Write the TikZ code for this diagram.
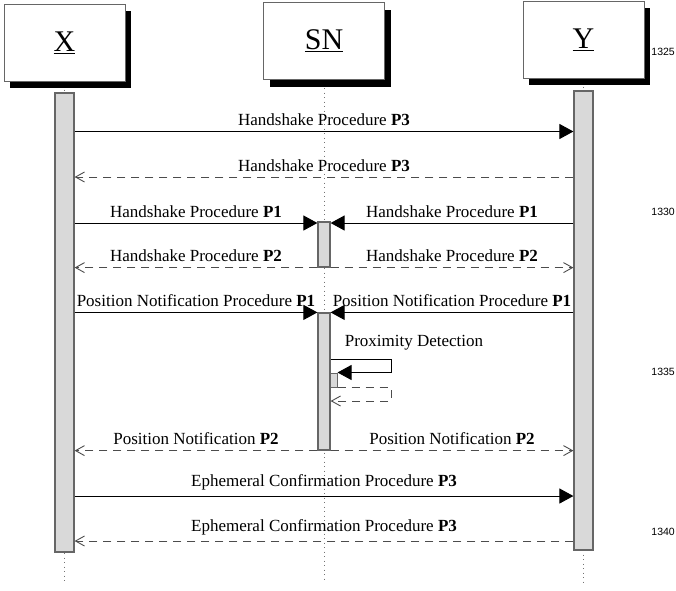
\documentclass[tikz,border=0pt]{standalone}
\usepackage{fontspec}
\setmainfont{Liberation Serif}
\newfontfamily\linenofont{Liberation Sans}
\usetikzlibrary{arrows.meta,shadows}

\begin{document}
\begin{tikzpicture}[
    x=1pt, y=-1pt,
    actor/.style = {
        rectangle,
        draw=black!60,
        line width=1pt,
        fill=white,
        minimum width=121pt,
        minimum height=77pt,
        font=\fontsize{30}{34}\selectfont,
        drop shadow={fill=black, opacity=1, shadow xshift=6pt, shadow yshift=-7pt}
    },
    bar/.style = {
        rectangle,
        draw=black!60,
        line width=1.2pt,
        fill=black!15,
        inner sep=0pt
    },
    lifeline/.style = {
        draw=black!55,
        line width=0.9pt,
        dash pattern=on 0.9pt off 3.6pt
    },
    call/.style = {
        -{Triangle[length=14pt,width=15pt]},
        line width=1pt,
        draw=black
    },
    reply/.style = {
        -{Straight Barb[length=9pt,width=10pt,line width=0.9pt]},
        line width=1pt,
        draw=black!70,
        dash pattern=on 8pt off 6pt
    },
    msg/.style = {
        above=5pt,
        inner sep=0pt,
        font=\fontsize{17}{20}\selectfont,
        text=black
    },
    note/.style = {
        inner sep=0pt,
        font=\fontsize{17}{20}\selectfont
    },
    lineno/.style = {
        anchor=east,
        inner sep=0pt,
        font=\linenofont\fontsize{10.5}{12}\selectfont
    }
]
\useasboundingbox (0,0) rectangle (676,590);

\node (X) [actor] at (64.5,42.5) {\underline{X}};
\node (SN) [actor] at (324,41) {\underline{SN}};
\node (Y) [actor] at (583.5,39.5) {\underline{Y}};

\coordinate (bottom) at (0,582);
\draw [lifeline] ([yshift=-8pt]X.south) -- (X.south |- bottom);
\draw [lifeline] ([yshift=-8pt]SN.south) -- (SN.south |- bottom);
\draw [lifeline] ([yshift=-8pt]Y.south) -- (Y.south |- bottom);

\node (xbar) [bar, minimum width=19pt, minimum height=459pt] at (64.5,322.5) {};
\node (ybar) [bar, minimum width=19pt, minimum height=459pt] at (583.5,320.5) {};
\node (snbar1) [bar, minimum width=12pt, minimum height=45pt] at (324,244.5) {};
\node (snbar2) [bar, minimum width=12pt, minimum height=137pt] at (324,381.5) {};
\node (selfbar) [bar, line width=1pt, minimum width=7pt, minimum height=14pt] at (333.5,380) {};

\coordinate (r1) at (0,131.5);
\coordinate (r2) at (0,177);
\coordinate (r3) at (0,223);
\coordinate (r7) at (0,496);
\coordinate (r8) at (0,541);
\coordinate (loop) at (391,359);
\coordinate (ret) at (391,401);

\draw [call] (xbar.east |- r1) -- node [msg] {Handshake Procedure \textbf{P3}} (ybar.west |- r1);
\draw [reply] (ybar.west |- r2) -- node [msg] {Handshake Procedure \textbf{P3}} (xbar.east |- r2);

\draw [call] (xbar.east |- r3) -- node [msg] {Handshake Procedure \textbf{P1}} (snbar1.west |- r3);
\draw [call] (ybar.west |- r3) -- node [msg] {Handshake Procedure \textbf{P1}} (snbar1.east |- r3);
\draw [reply] (snbar1.south west) -- node [msg] {Handshake Procedure \textbf{P2}} (xbar.east |- snbar1.south west);
\draw [reply] (snbar1.south east) -- node [msg] {Handshake Procedure \textbf{P2}} (ybar.west |- snbar1.south east);

\draw [call] (xbar.east |- snbar2.north west) -- node [msg] {Position Notification Procedure \textbf{P1}} (snbar2.north west);
\draw [call] (ybar.west |- snbar2.north east) -- node [msg] {Position Notification Procedure \textbf{P1}} (snbar2.north east);

\node (prox) [note] at (414,343) {Proximity Detection};
\draw [call] (snbar2.east |- loop) -- (loop) |- (selfbar.north east);
\draw [reply] (selfbar.south east) -| (ret) -- (snbar2.east |- ret);

\draw [reply] (snbar2.south west) -- node [msg] {Position Notification \textbf{P2}} (xbar.east |- snbar2.south west);
\draw [reply] (snbar2.south east) -- node [msg] {Position Notification \textbf{P2}} (ybar.west |- snbar2.south east);

\draw [call] (xbar.east |- r7) -- node [msg] {Ephemeral Confirmation Procedure \textbf{P3}} (ybar.west |- r7);
\draw [reply] (ybar.west |- r8) -- node [msg] {Ephemeral Confirmation Procedure \textbf{P3}} (xbar.east |- r8);

\node (n1325) [lineno] at (675,52) {1325};
\node (n1330) [lineno] at (675,212) {1330};
\node (n1335) [lineno] at (675,372) {1335};
\node (n1340) [lineno] at (675,532) {1340};

\end{tikzpicture}
\end{document}
